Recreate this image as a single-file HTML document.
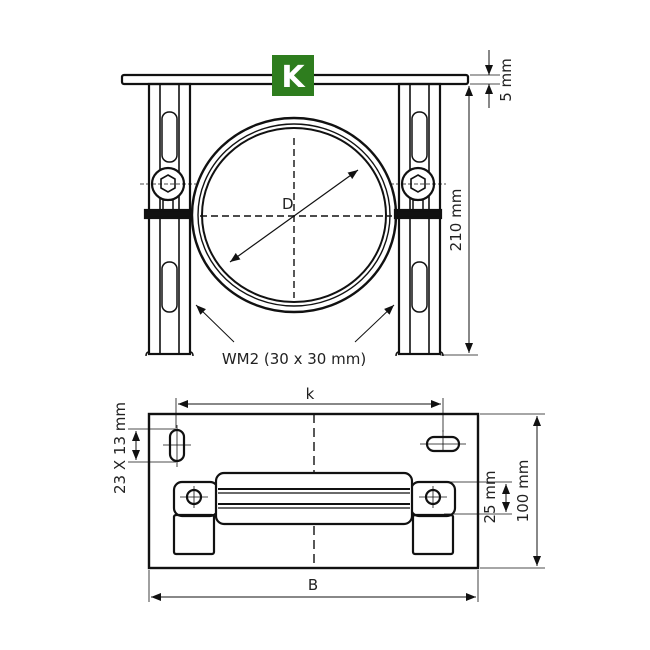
<!DOCTYPE html>
<html><head><style>body{margin:0;background:#fff}svg{display:block}text{font-family:"DejaVu Sans","Liberation Sans",sans-serif;fill:#222}</style></head><body>
<svg width="650" height="650" viewBox="0 0 650 650" xmlns="http://www.w3.org/2000/svg">
<defs><marker id="a" markerWidth="10" markerHeight="8" refX="10" refY="4" orient="auto-start-reverse" markerUnits="userSpaceOnUse"><path d="M0,0 L10,4 L0,8z" fill="#111"/></marker></defs>
<g stroke="#111" fill="none" stroke-width="2.2">
<!-- top plate -->
<rect x="122" y="75" width="346" height="9" rx="2" fill="#fff"/>
<!-- channels -->
<g id="ch">
<rect x="149" y="84" width="41" height="270"/>
<line x1="160" y1="84" x2="160" y2="354" stroke-width="1.6"/>
<line x1="179" y1="84" x2="179" y2="354" stroke-width="1.6"/>
<rect x="162" y="112" width="15" height="50" rx="7" stroke-width="1.5"/>
<rect x="162" y="262" width="15" height="50" rx="7" stroke-width="1.5"/>
<path d="M146,356 q0,-4 3,-4 M193,356 q0,-4 -3,-4" stroke-width="1.5"/>
<circle cx="168" cy="184" r="16" fill="#fff"/>
<path d="M168,175 l7,4 v9 l-7,4 l-7,-4 v-9z" stroke-width="1.6"/>
<rect x="163" y="200" width="10" height="10" stroke-width="1.5"/>
<rect x="145" y="210" width="46" height="8" fill="#111"/>
<line x1="140" y1="184" x2="196" y2="184" stroke-width="0.8" stroke-dasharray="4 2"/>
</g>
<use href="#ch" transform="translate(250,0)"/>
<!-- ring -->
<ellipse cx="294" cy="215" rx="102" ry="97" stroke-width="2.4"/>
<ellipse cx="294" cy="215" rx="96" ry="91" stroke-width="1.4"/>
<ellipse cx="294" cy="215" rx="92" ry="87" stroke-width="2"/>
<line x1="294" y1="138" x2="294" y2="298" stroke-width="1.4" stroke-dasharray="7 4"/>
<line x1="200" y1="216" x2="392" y2="216" stroke-width="1.4" stroke-dasharray="7 4"/>
<line x1="230" y1="262" x2="358" y2="170" stroke-width="1.2" marker-start="url(#a)" marker-end="url(#a)"/>
<!-- leaders -->
<line x1="234" y1="342" x2="196" y2="305" stroke-width="1" marker-end="url(#a)"/>
<line x1="355" y1="342" x2="394" y2="305" stroke-width="1" marker-end="url(#a)"/>
<!-- dims top -->
<line x1="470" y1="84" x2="500" y2="84" stroke-width="0.8"/>
<line x1="440" y1="355" x2="478" y2="355" stroke-width="0.8"/>
<line x1="469" y1="86" x2="469" y2="353" stroke-width="1" marker-start="url(#a)" marker-end="url(#a)"/>
<line x1="470" y1="75" x2="500" y2="75" stroke-width="0.8"/>
<line x1="489" y1="50" x2="489" y2="75" stroke-width="1" marker-end="url(#a)"/>
<line x1="489" y1="108" x2="489" y2="84" stroke-width="1" marker-end="url(#a)"/>
<!-- bottom view -->
<rect x="149" y="414" width="329" height="154" stroke-width="2.4"/>
<line x1="314" y1="414" x2="314" y2="568" stroke-width="1.4" stroke-dasharray="9 5"/>
<rect x="170" y="430" width="14" height="31" rx="7"/>
<rect x="427" y="437" width="32" height="14" rx="7"/>
<path d="M163,445 h28 M177,425 v42 M420,444 h46 M443,430 v20" stroke-width="0.8"/>
<rect x="174" y="482" width="44" height="34" rx="8"/>
<rect x="411" y="482" width="44" height="34" rx="8"/>
<rect x="174" y="515" width="40" height="39" rx="2"/>
<rect x="413" y="515" width="40" height="39" rx="2"/>
<rect x="216" y="473" width="196" height="51" rx="8" fill="#fff"/>
<line x1="218" y1="489" x2="410" y2="489" stroke-width="2"/>
<line x1="218" y1="493" x2="410" y2="493" stroke-width="1.2"/>
<line x1="218" y1="504" x2="410" y2="504" stroke-width="2"/>
<line x1="218" y1="508" x2="410" y2="508" stroke-width="1.2"/>
<circle cx="194" cy="497" r="7"/>
<circle cx="433" cy="497" r="7"/>
<path d="M180,497 h28 M194,486 v22 M419,497 h28 M433,486 v22" stroke-width="0.8"/>
<!-- bottom dims -->
<line x1="176" y1="398" x2="176" y2="428" stroke-width="0.8"/>
<line x1="443" y1="398" x2="443" y2="432" stroke-width="0.8"/>
<line x1="178" y1="404" x2="441" y2="404" stroke-width="1" marker-start="url(#a)" marker-end="url(#a)"/>
<line x1="149" y1="570" x2="149" y2="602" stroke-width="0.8"/>
<line x1="478" y1="570" x2="478" y2="602" stroke-width="0.8"/>
<line x1="151" y1="597" x2="476" y2="597" stroke-width="1" marker-start="url(#a)" marker-end="url(#a)"/>
<line x1="480" y1="414" x2="545" y2="414" stroke-width="0.8"/>
<line x1="480" y1="568" x2="545" y2="568" stroke-width="0.8"/>
<line x1="537" y1="416" x2="537" y2="566" stroke-width="1" marker-start="url(#a)" marker-end="url(#a)"/>
<line x1="444" y1="482" x2="512" y2="482" stroke-width="0.8"/>
<line x1="444" y1="514" x2="512" y2="514" stroke-width="0.8"/>
<line x1="506" y1="484" x2="506" y2="512" stroke-width="1" marker-start="url(#a)" marker-end="url(#a)"/>
<line x1="128" y1="429" x2="176" y2="429" stroke-width="0.8"/>
<line x1="128" y1="462" x2="176" y2="462" stroke-width="0.8"/>
<line x1="136" y1="431" x2="136" y2="460" stroke-width="1" marker-start="url(#a)" marker-end="url(#a)"/>
</g>
<rect x="272" y="55" width="42" height="41" fill="#2e7d1e"/>
<text x="293" y="87" font-size="30" text-anchor="middle" style="fill:#fff;font-weight:bold">K</text>
<g font-size="15">
<text x="282" y="209">D</text>
<text x="294" y="364" text-anchor="middle">WM2 (30 x 30 mm)</text>
<text x="310" y="399" text-anchor="middle">k</text>
<text x="313" y="590" text-anchor="middle">B</text>
<text transform="translate(461,220) rotate(-90)" text-anchor="middle">210 mm</text>
<text transform="translate(511,80) rotate(-90)" text-anchor="middle">5 mm</text>
<text transform="translate(528,491) rotate(-90)" text-anchor="middle">100 mm</text>
<text transform="translate(495,497) rotate(-90)" text-anchor="middle">25 mm</text>
<text transform="translate(125,448) rotate(-90)" text-anchor="middle">23 X 13 mm</text>
</g>
</svg>
</body></html>
